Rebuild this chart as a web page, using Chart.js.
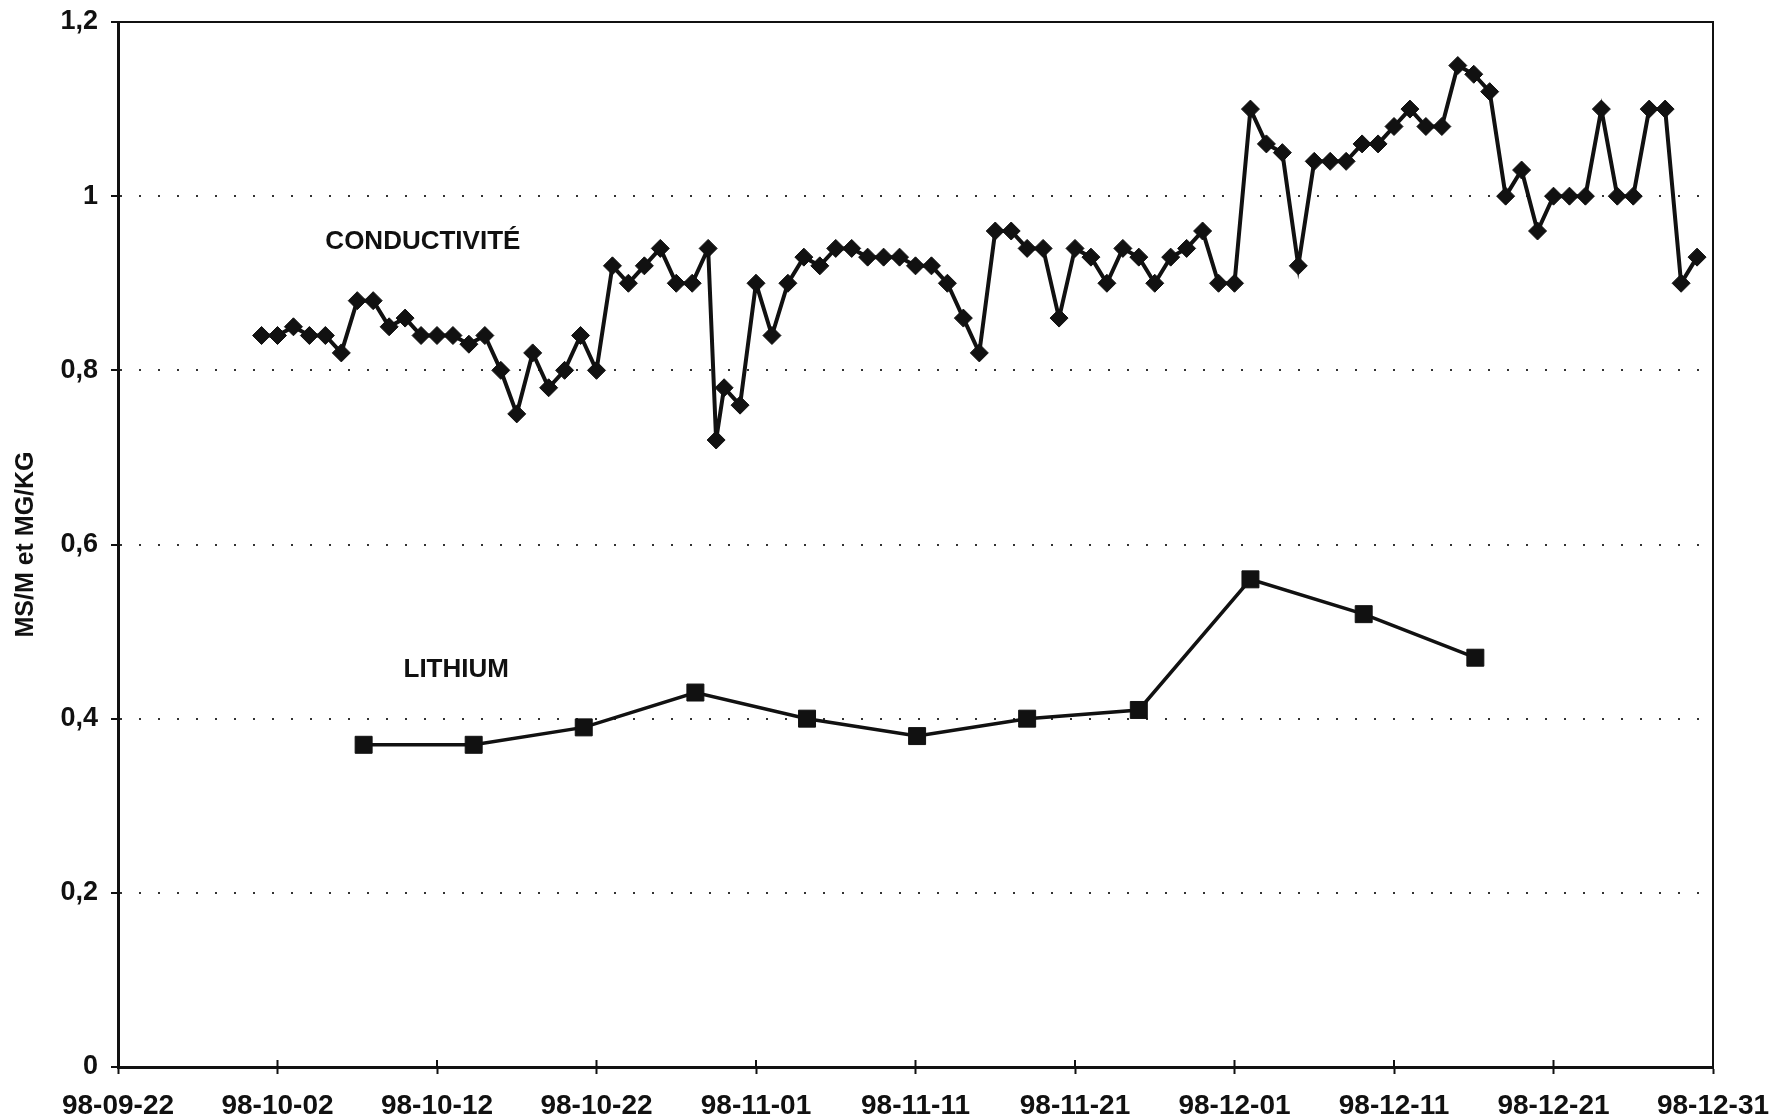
<!DOCTYPE html>
<html>
<head>
<meta charset="utf-8">
<script src="https://cdn.jsdelivr.net/npm/chart.js@4/dist/chart.umd.min.js"></script>
<style>
  html, body { margin: 0; padding: 0; background: #fff; }
  #wrap { width: 1771px; height: 1118px; }
</style>
</head>
<body>
<div id="wrap"><canvas id="chart" width="1771" height="1118"></canvas></div>
<script>
// jours depuis le 98-09-22
const X_TICK_LABELS = ["98-09-22", "98-10-02", "98-10-12", "98-10-22", "98-11-01", "98-11-11",
  "98-11-21", "98-12-01", "98-12-11", "98-12-21", "98-12-31"]

const Y_TITLE = "MS/M et MG/KG"

const COND_DAYS = [9, 10, 11, 12, 13, 14, 15, 16, 17, 18, 19, 20, 21, 22, 23, 24, 25, 26, 27, 28,
  29, 30, 31, 32, 33, 34, 35, 36, 37, 37.5, 38, 39, 40, 41, 42, 43, 44, 45, 46, 47, 48, 49, 50,
  51, 52, 53, 54, 55, 56, 57, 58, 59, 60, 61, 62, 63, 64, 65, 66, 67, 68, 69, 70, 71, 72, 73, 74,
  75, 76, 77, 78, 79, 80, 81, 82, 83, 84, 85, 86, 87, 88, 89, 90, 91, 92, 93, 94, 95, 96, 97, 98, 99]
const COND_VALUES = [0.84, 0.84, 0.85, 0.84, 0.84, 0.82, 0.88, 0.88, 0.85, 0.86, 0.84, 0.84, 0.84,
  0.83, 0.84, 0.80, 0.75, 0.82, 0.78, 0.80, 0.84, 0.80, 0.92, 0.90, 0.92, 0.94, 0.90, 0.90, 0.94,
  0.72, 0.78, 0.76, 0.90, 0.84, 0.90, 0.93, 0.92, 0.94, 0.94, 0.93, 0.93, 0.93, 0.92, 0.92, 0.90,
  0.86, 0.82, 0.96, 0.96, 0.94, 0.94, 0.86, 0.94, 0.93, 0.90, 0.94, 0.93, 0.90, 0.93, 0.94, 0.96,
  0.90, 0.90, 1.10, 1.06, 1.05, 0.92, 1.04, 1.04, 1.04, 1.06, 1.06, 1.08, 1.10, 1.08, 1.08, 1.15,
  1.14, 1.12, 1.00, 1.03, 0.96, 1.00, 1.00, 1.00, 1.10, 1.00, 1.00, 1.10, 1.10, 0.90, 0.93]

const LITHIUM_DAYS = [15.4, 22.3, 29.2, 36.2, 43.2, 50.1, 57.0, 64.0, 71.0, 78.1, 85.1]
const LITHIUM_VALUES = [0.37, 0.37, 0.39, 0.43, 0.40, 0.38, 0.40, 0.41, 0.56, 0.52, 0.47]

const SERIES_NAMES = ["CONDUCTIVITÉ", "LITHIUM"]
const NAME_DAYS = [13.0, 17.9]
const NAME_VALUES = [0.947, 0.456]

const INK = "#111"
const FONT = "'Liberation Sans', Arial, Helvetica, sans-serif"

function points(days, values) {
  return days.map(function (d, i) {
    return { x: d, y: values[i] }
  })
}

function yLabel(value) {
  return String(Math.round(value * 10) / 10).replace(".", ",")
}

const framePlugin = {
  id: "frame",
  afterDraw(chart) {
    const ctx = chart.ctx
    const area = chart.chartArea
    const xs = chart.scales.x
    const ys = chart.scales.y

    ctx.save()
    ctx.strokeStyle = INK
    ctx.lineWidth = 2
    ctx.beginPath()
    ctx.moveTo(area.left - 7, area.top)
    ctx.lineTo(area.right, area.top)
    ctx.lineTo(area.right, area.bottom)
    ctx.stroke()

    // petites graduations vers l'intérieur
    xs.ticks.forEach(function (t) {
      const px = xs.getPixelForValue(t.value)
      ctx.beginPath()
      ctx.moveTo(px, area.bottom - 7)
      ctx.lineTo(px, area.bottom)
      ctx.stroke()
    })

    ctx.fillStyle = INK
    ctx.font = "bold 26px " + FONT
    ctx.textBaseline = "middle"
    ctx.textAlign = "left"
    SERIES_NAMES.forEach(function (name, i) {
      ctx.fillText(name, xs.getPixelForValue(NAME_DAYS[i]), ys.getPixelForValue(NAME_VALUES[i]))
    })
    ctx.restore()
  },
}

new Chart(document.getElementById("chart"), {
  type: "line",
  data: {
    datasets: [
      {
        label: SERIES_NAMES[0],
        data: points(COND_DAYS, COND_VALUES),
        borderColor: INK,
        backgroundColor: INK,
        borderWidth: 4,
        pointStyle: "rectRot",
        pointRadius: 9,
        pointBorderWidth: 1,
        tension: 0,
      },
      {
        label: SERIES_NAMES[1],
        data: points(LITHIUM_DAYS, LITHIUM_VALUES),
        borderColor: INK,
        backgroundColor: INK,
        borderWidth: 3.5,
        pointStyle: "rect",
        pointRadius: 12,
        pointBorderWidth: 1,
        tension: 0,
      },
    ],
  },
  options: {
    responsive: false,
    animation: false,
    devicePixelRatio: 1,
    layout: { padding: { left: 0, top: 22, right: 58, bottom: 0 } },
    plugins: {
      legend: { display: false },
      tooltip: { enabled: false },
    },
    scales: {
      x: {
        type: "linear",
        min: 0,
        max: 100,
        afterFit: function (scale) {
          scale.height = 51
          scale.paddingLeft = 0
          scale.paddingRight = 0
        },
        ticks: {
          stepSize: 10,
          autoSkip: false,
          maxRotation: 0,
          padding: 15,
          color: INK,
          font: { family: FONT, size: 28, weight: "bold" },
          callback: function (value) {
            return X_TICK_LABELS[Math.round(value / 10)]
          },
        },
        grid: {
          drawOnChartArea: false,
          tickLength: 7,
          tickWidth: 2,
          tickColor: INK,
        },
        border: { display: true, color: INK, width: 3 },
      },
      y: {
        min: 0,
        max: 1.2,
        afterFit: function (scale) {
          scale.width = 118
          scale.paddingTop = 0
          scale.paddingBottom = 0
        },
        title: {
          display: true,
          text: Y_TITLE,
          color: INK,
          font: { family: FONT, size: 25, weight: "bold" },
          padding: { top: 11, bottom: 0 },
        },
        ticks: {
          stepSize: 0.2,
          padding: 13,
          color: INK,
          font: { family: FONT, size: 27, weight: "bold" },
          callback: yLabel,
        },
        grid: {
          lineWidth: 2,
          color: function (c) {
            const v = c.tick ? c.tick.value : 0
            return v > 0.01 && v < 1.19 ? "#333" : "rgba(0,0,0,0)"
          },
          tickLength: 7,
          tickWidth: 2,
          tickColor: INK,
        },
        border: { display: true, color: INK, width: 3, dash: [2, 17] },
      },
    },
  },
  plugins: [framePlugin],
})
</script>
</body>
</html>
